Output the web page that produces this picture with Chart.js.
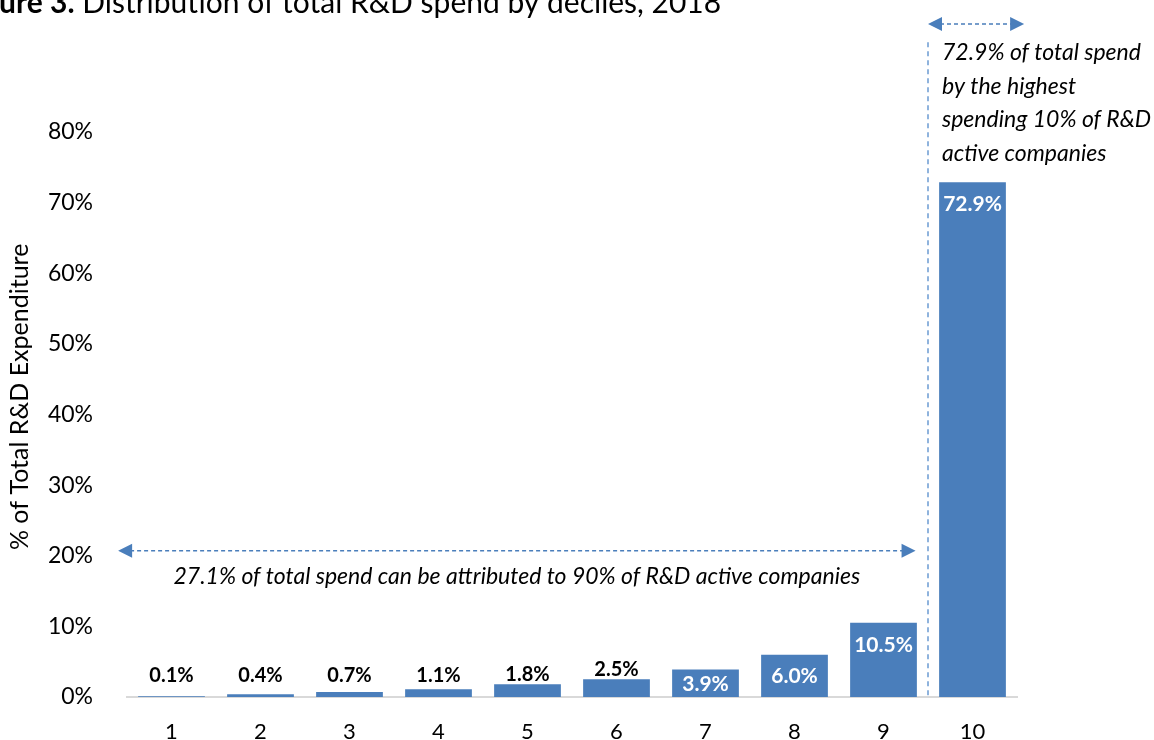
<!DOCTYPE html>
<html>
<head>
<meta charset="utf-8">
<script src="https://cdn.jsdelivr.net/npm/chart.js@4"></script>
<style>
  html, body { margin: 0; padding: 0; background: #fff; }
  #wrap { width: 1154px; height: 740px; position: relative; }
</style>
</head>
<body>
<div id="wrap"><canvas id="rdChart"></canvas></div>
<script>
const deciles = ['1', '2', '3', '4', '5', '6', '7', '8', '9', '10'];
const spendShare = [0.1, 0.4, 0.7, 1.1, 1.8, 2.5, 3.9, 6.0, 10.5, 72.9];
const yTicks = [0, 10, 20, 30, 40, 50, 60, 70, 80];

const titleBold = 'Figure 3.';
const titleRest = ' Distribution of total R&D spend by deciles, 2018';
const yTitle = '% of Total R&D Expenditure';
const lowerNote = '27.1% of total spend can be attributed to 90% of R&D active companies';
const upperNote = ['72.9% of total spend', 'by the highest', 'spending 10% of R&D', 'active companies'];

const FONT = 'Lato, "Open Sans", sans-serif';
const BLUE = '#4a7ebb';

// first 6 labels sit above their bars, the rest go inside in white
const insideFrom = 6;

const valueLabels = {
    id: 'valueLabels',
    afterDatasetsDraw(chart) {
        const ctx = chart.ctx;
        const y = chart.scales.y;
        const meta = chart.getDatasetMeta(0);
        ctx.save();
        ctx.textAlign = 'center';
        ctx.textBaseline = 'middle';
        meta.data.forEach((bar, i) => {
            const v = spendShare[i];
            const top = y.getPixelForValue(v);
            const base = y.getPixelForValue(0);
            if (i < insideFrom) {
                ctx.font = 'bold 20px ' + FONT;
                ctx.fillStyle = '#000';
                const ly = Math.min(top - 10, y.getPixelForValue(3));
                ctx.fillText(v.toFixed(1) + '%', bar.x, ly);
            } else {
                ctx.font = 'bold 21px ' + FONT;
                ctx.fillStyle = '#fff';
                const ly = Math.min(top + 22, base - 13);
                ctx.fillText(v.toFixed(1) + '%', bar.x, ly);
            }
        });
        ctx.restore();
    }
};

function arrowHead(ctx, x, y, dir) {
    ctx.beginPath();
    ctx.moveTo(x, y);
    ctx.lineTo(x - dir * 14, y - 7);
    ctx.lineTo(x - dir * 14, y + 7);
    ctx.closePath();
    ctx.fill();
}

function dashedArrow(ctx, x1, x2, yy) {
    ctx.save();
    ctx.strokeStyle = BLUE;
    ctx.fillStyle = BLUE;
    ctx.lineWidth = 1.5;
    ctx.setLineDash([4, 3]);
    ctx.beginPath();
    ctx.moveTo(x1 + 12, yy);
    ctx.lineTo(x2 - 12, yy);
    ctx.stroke();
    ctx.setLineDash([]);
    arrowHead(ctx, x1, yy, -1);
    arrowHead(ctx, x2, yy, 1);
    ctx.restore();
}

const notes = {
    id: 'notes',
    afterDraw(chart) {
        const ctx = chart.ctx;
        const x = chart.scales.x;
        const y = chart.scales.y;

        // title, pushed left so its start runs off the canvas
        ctx.save();
        ctx.textBaseline = 'alphabetic';
        ctx.textAlign = 'left';
        ctx.fillStyle = '#000';
        ctx.font = 'bold 30px ' + FONT;
        const tx = -ctx.measureText('Fig').width - 1;
        ctx.fillText(titleBold, tx, 13);
        const bw = ctx.measureText(titleBold).width;
        ctx.font = '30px ' + FONT;
        ctx.fillText(titleRest, tx + bw, 13);
        ctx.restore();

        // rotated axis title, sitting a little above the plot's middle
        ctx.save();
        ctx.translate(20, y.getPixelForValue(42.5));
        ctx.rotate(-Math.PI / 2);
        ctx.font = '25px ' + FONT;
        ctx.fillStyle = '#000';
        ctx.textAlign = 'center';
        ctx.textBaseline = 'middle';
        ctx.fillText(yTitle, 0, 0);
        ctx.restore();

        // divider between deciles 9 and 10
        const divX = x.getPixelForValue(8.5);
        ctx.save();
        ctx.strokeStyle = '#6b9bd2';
        ctx.lineWidth = 1.5;
        ctx.setLineDash([5, 4]);
        ctx.beginPath();
        ctx.moveTo(divX, y.getPixelForValue(92.7));
        ctx.lineTo(divX, y.getPixelForValue(0));
        ctx.stroke();
        ctx.restore();

        // spans for the two groups
        dashedArrow(ctx, x.getPixelForValue(-0.6), x.getPixelForValue(8.36), y.getPixelForValue(20.7));
        dashedArrow(ctx, divX, x.getPixelForValue(9.58), y.getPixelForValue(95.3));

        ctx.save();
        ctx.fillStyle = '#000';
        ctx.font = 'italic 23px ' + FONT;
        ctx.textBaseline = 'middle';
        ctx.textAlign = 'center';
        ctx.fillText(lowerNote, (x.getPixelForValue(-0.6) + x.getPixelForValue(8.36)) / 2, y.getPixelForValue(17.0));
        ctx.textAlign = 'left';
        const lineVals = [91.2, 86.4, 81.7, 76.9];
        upperNote.forEach((t, i) => {
            ctx.fillText(t, divX + 14, y.getPixelForValue(lineVals[i]));
        });
        ctx.restore();
    }
};

new Chart(document.getElementById('rdChart'), {
    type: 'bar',
    data: {
        labels: deciles,
        datasets: [{
            data: spendShare,
            backgroundColor: BLUE,
            borderWidth: 0,
            barPercentage: 0.75,
            categoryPercentage: 1.0
        }]
    },
    options: {
        responsive: true,
        maintainAspectRatio: false,
        animation: false,
        layout: { padding: { top: 132, right: 137, left: 0, bottom: 0 } },
        plugins: {
            legend: { display: false },
            tooltip: { enabled: false }
        },
        scales: {
            x: {
                grid: { display: false },
                border: { display: true, color: '#d9d9d9', width: 2 },
                ticks: { color: '#000', font: { family: FONT, size: 22 }, padding: 14 },
                afterFit(scale) { scale.height = 43; }
            },
            y: {
                min: 0,
                max: 80,
                afterBuildTicks(scale) { scale.ticks = yTicks.map(v => ({ value: v })); },
                grid: { display: false },
                border: { display: false },
                ticks: {
                    color: '#000',
                    font: { family: FONT, size: 23 },
                    padding: 26,
                    callback: v => v + '%'
                },
                afterFit(scale) { scale.width = 127; }
            }
        }
    },
    plugins: [valueLabels, notes]
});
</script>
</body>
</html>
